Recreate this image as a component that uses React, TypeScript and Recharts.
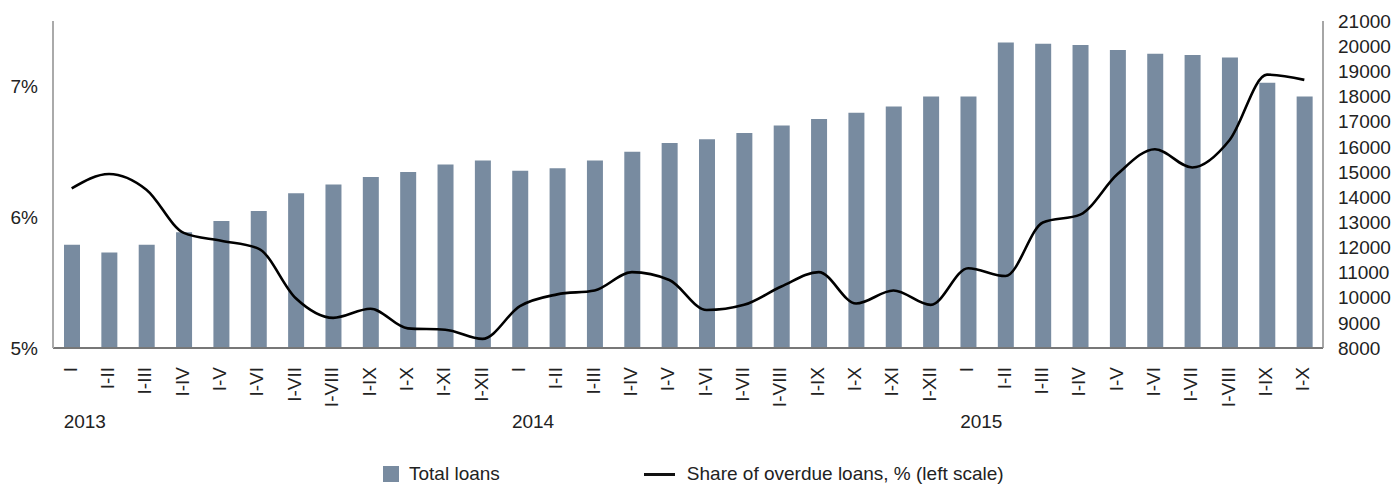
import React from "react";
import {
  ComposedChart,
  Bar,
  Line,
  XAxis,
  YAxis,
  Legend,
} from "recharts";

// month ranges, three years
const months = [
  "I", "I-II", "I-III", "I-IV", "I-V", "I-VI", "I-VII", "I-VIII", "I-IX", "I-X", "I-XI", "I-XII",
  "I", "I-II", "I-III", "I-IV", "I-V", "I-VI", "I-VII", "I-VIII", "I-IX", "I-X", "I-XI", "I-XII",
  "I", "I-II", "I-III", "I-IV", "I-V", "I-VI", "I-VII", "I-VIII", "I-IX", "I-X",
];
const years = ["2013", "2014", "2015"];

// total loans (right scale)
const totalLoans = [
  12100, 11800, 12100, 12600, 13050, 13450, 14150, 14500, 14800, 15000, 15300, 15450,
  15050, 15150, 15450, 15800, 16150, 16300, 16550, 16850, 17100, 17350, 17600, 18000,
  18000, 20150, 20100, 20050, 19850, 19700, 19650, 19550, 18550, 18000,
];

// share of overdue loans, % (left scale)
const overdueShare = [
  6.22, 6.33, 6.21, 5.88, 5.82, 5.76, 5.38, 5.23, 5.3, 5.15, 5.14, 5.07,
  5.32, 5.41, 5.44, 5.58, 5.52, 5.29, 5.33, 5.47, 5.58, 5.34, 5.44, 5.33,
  5.61, 5.55, 5.96, 6.02, 6.33, 6.52, 6.38, 6.59, 7.09, 7.05,
];

const leftTicks = [5, 6, 7];
const rightTicks = [8000, 9000, 10000, 11000, 12000, 13000, 14000, 15000, 16000, 17000, 18000, 19000, 20000, 21000];

const data = months.map((m, i) => ({
  idx: i,
  month: m,
  loans: totalLoans[i],
  share: overdueShare[i],
}));

const FONT = "'Liberation Sans', Arial, sans-serif";

const MonthTick = (props: any) => {
  const { x, y, payload } = props;
  const i = payload.value as number;
  const yearIdx = i === 0 ? 0 : i === 12 ? 1 : i === 24 ? 2 : -1;
  return (
    <g>
      <text
        transform={`translate(${x + 5},${y + 11}) rotate(-90)`}
        textAnchor="end"
        fontSize={19}
        fill="#222"
        fontFamily={FONT}
      >
        {months[i]}
      </text>
      {yearIdx >= 0 && (
        <text x={x - 8} y={y + 72} textAnchor="start" fontSize={19} fill="#222" fontFamily={FONT}>
          {years[yearIdx]}
        </text>
      )}
    </g>
  );
};

const LegendContent = () => (
  <div
    style={{
      display: "flex",
      alignItems: "center",
      fontFamily: FONT,
      fontSize: 19,
      color: "#222",
      paddingLeft: 383,
    }}
  >
    <span style={{ width: 16, height: 16, background: "#788ba0", display: "inline-block" }} />
    <span style={{ marginLeft: 10 }}>Total loans</span>
    <span
      style={{ width: 31, height: 3, background: "#111", display: "inline-block", marginLeft: 144 }}
    />
    <span style={{ marginLeft: 12 }}>Share of overdue loans, % (left scale)</span>
  </div>
);

export default function App() {
  return (
    <div style={{ position: "absolute", left: 0, top: 0, width: 1397, height: 484, background: "#fff" }}>
      <ComposedChart
        width={1397}
        height={484}
        data={data}
        margin={{ top: 21, right: 0, left: 0, bottom: 0 }}
        barCategoryGap={0}
      >
        <XAxis
          dataKey="idx"
          type="category"
          height={136}
          interval={0}
          tickLine={false}
          axisLine={{ stroke: "#777", strokeWidth: 2 }}
          tick={<MonthTick />}
        />
        <YAxis
          yAxisId="left"
          orientation="left"
          width={53}
          domain={[5, 7.5]}
          ticks={leftTicks}
          tickFormatter={(v: number) => `${v}%`}
          tickLine={false}
          tickMargin={9}
          axisLine={{ stroke: "#aaa", strokeWidth: 2 }}
          tick={{ fontSize: 19, fill: "#222", fontFamily: FONT }}
        />
        <YAxis
          yAxisId="right"
          orientation="right"
          width={74}
          domain={[8000, 21000]}
          ticks={rightTicks}
          interval={0}
          tickLine={false}
          tickMargin={9}
          axisLine={{ stroke: "#888", strokeWidth: 1.5 }}
          tick={{ fontSize: 19, fill: "#222", fontFamily: FONT, textAnchor: "start" }}
        />
        <Legend
          verticalAlign="middle"
          layout="horizontal"
          wrapperStyle={{ top: 463, left: 0, width: 1397 }}
          content={<LegendContent />}
        />
        <Bar
          yAxisId="right"
          dataKey="loans"
          name="Total loans"
          fill="#788ba0"
          barSize={16}
          isAnimationActive={false}
        />
        <Line
          yAxisId="left"
          dataKey="share"
          name="Share of overdue loans, % (left scale)"
          type="monotone"
          stroke="#000"
          strokeWidth={2.6}
          dot={false}
          activeDot={false}
          isAnimationActive={false}
        />
      </ComposedChart>
    </div>
  );
}
